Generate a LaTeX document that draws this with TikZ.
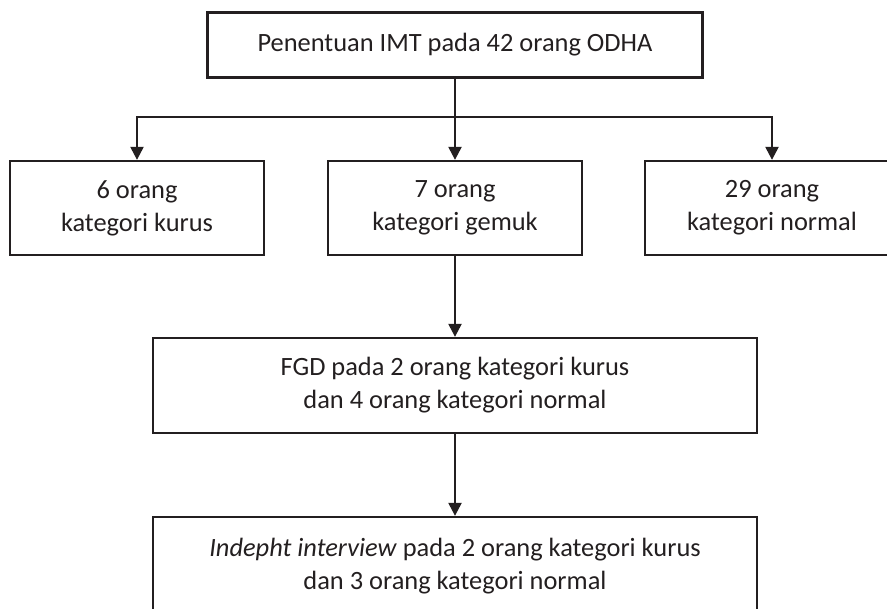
\documentclass[tikz,border=0pt]{standalone}
\usepackage{fontspec}
\setmainfont{Carlito}
\usepackage{xcolor}
\usepackage{tikz}
\usetikzlibrary{arrows.meta,positioning}
\definecolor{ink}{HTML}{231F20}

\begin{document}
\begin{tikzpicture}[x=1pt,y=-1pt,
  font=\fontsize{26.4}{33}\selectfont, text=ink,
  box/.style={draw=ink,line width=2.3pt,inner sep=0pt,align=center},
  arr/.style={draw=ink,line width=2.3pt,-{Triangle[length=13pt,width=13pt]}}]
\useasboundingbox (0,0) rectangle (887,609);
\clip (0,0) rectangle (887,609);
\node[box,minimum width=495pt,minimum height=65pt] (top) at (455,45) {Penentuan IMT pada 42 orang ODHA};
\node[box,minimum width=254pt,minimum height=94pt] (kurus) at (137,208) {6 orang\\kategori kurus};
\node[box,minimum width=254pt,minimum height=94pt] (gemuk) at (455,208) {7 orang\\kategori gemuk};
\node[box,minimum width=254pt,minimum height=94pt] (normal) at (772,208) {29 orang\\kategori normal};
\node[box,minimum width=604pt,minimum height=95pt] (fgd) at (455,385.5) {FGD pada 2 orang kategori kurus\\dan 4 orang kategori normal};
\node[box,minimum width=604pt,minimum height=98pt] (idi) at (455,566) {\textit{Indepht interview} pada 2 orang kategori kurus\\dan 3 orang kategori normal};
\coordinate (split) at (455,117);
\draw[draw=ink,line width=2.3pt] (top) -- (split);
\draw[arr] (split) -| (kurus);
\draw[arr] (split) -- (gemuk);
\draw[arr] (split) -| (normal);
\draw[arr] (gemuk) -- (fgd);
\draw[arr] (fgd) -- (idi);
\end{tikzpicture}
\end{document}
